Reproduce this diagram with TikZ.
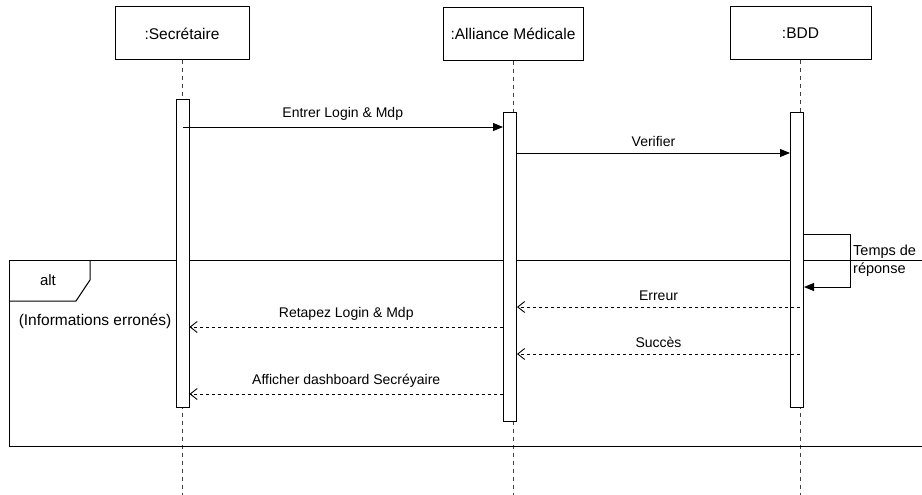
\documentclass[tikz,border=0pt]{standalone}
\usepackage{fontspec}
\setmainfont{Liberation Sans}
\usetikzlibrary{arrows.meta}
\begin{document}
\begin{tikzpicture}[x=1pt,y=-1pt,
  head/.style={draw,line width=1pt,fill=white,minimum width=134pt,minimum height=53pt,inner sep=0pt,font=\fontsize{15.5}{18}\selectfont},
  act/.style={draw,line width=1pt,fill=white,minimum width=13pt,inner sep=0pt},
  life/.style={line width=1pt,black!75,dash pattern=on 4pt off 4pt},
  sync/.style={line width=0.9pt,-{Triangle[length=10pt,width=8pt]}},
  ret/.style={line width=0.9pt,dash pattern=on 3pt off 3pt,-{Straight Barb[length=7pt,width=11pt]}},
  lbl/.style={font=\fontsize{14}{17}\selectfont,inner sep=0pt},
  frame/.style={line width=1pt}]
\useasboundingbox (0,0) rectangle (922,495);
% lifeline heads
\node[head] (h1) at (182,33.5) {:Secrétaire};
\node[head,minimum width=140pt] (h2) at (513,34) {:Alliance Médicale};
\node[head,minimum width=141pt] (h3) at (800.5,33.5) {:BDD};
\coordinate (e1) at (182,495);
\coordinate (e2) at (513,495);
\coordinate (e3) at (800,495);
\draw[life] (h1.south) -- (e1);
\draw[life] (h2.south) -- (e2);
\draw[life] (h3.south -| e3) -- (e3);
% alt frame
\coordinate (fl) at (9,260);
\coordinate (fr) at (922,260);
\coordinate (bl) at (9,446);
\coordinate (br) at (922,446);
\draw[frame] (fr) -- (fl) -- (bl) -- (br);
\coordinate (t1) at (90,260);
\coordinate (t2) at (90,280);
\coordinate (t3) at (76,301);
\coordinate (t4) at (9,301);
\draw[frame] (t1) -- (t2) -- (t3) -- (t4);
\node[lbl,font=\fontsize{15}{18}\selectfont] (alt) at (48,280) {alt};
\node[lbl,font=\fontsize{15.5}{18}\selectfont] (cond) at (95,321) {(Informations erronés)};
% activations
\node[act,minimum height=307pt] (a1) at (182.5,253.5) {};
\node[act,minimum height=308pt] (a2) at (510,267) {};
\node[act,minimum height=294pt] (a3) at (797,260) {};
% message rows
\coordinate (m1) at (0,127);
\coordinate (m2) at (0,153);
\coordinate (s1) at (850,234);
\coordinate (s2) at (850,287);
\coordinate (m3) at (0,307);
\coordinate (m4) at (0,327);
\coordinate (m5) at (0,354);
\coordinate (m6) at (0,394);
\draw[sync] (a1.center |- m1) -- node[lbl,above=6pt] (l1) {Entrer Login \& Mdp} (a2.west |- m1);
\draw[sync] (a2.east |- m2) -- node[lbl,above=6pt] (l2) {Verifier} (a3.west |- m2);
\draw[sync] (a3.east |- s1) -- (s1) -- (s2) -- (a3.east |- s2);
\node[lbl,anchor=west,align=left,font=\fontsize{14.5}{18}\selectfont] (l3) at (853,261) {Temps de\\réponse};
\draw[ret] (e3 |- m3) -- node[lbl,above=6pt] (l4) {Erreur} (a2.east |- m3);
\draw[ret] (a2.west |- m4) -- node[lbl,above=6pt] (l5) {Retapez Login \& Mdp} (a1.east |- m4);
\draw[ret] (e3 |- m5) -- node[lbl,above=6pt] (l6) {Succès} (a2.east |- m5);
\draw[ret] (a2.west |- m6) -- node[lbl,above=6pt] (l7) {Afficher dashboard Secréyaire} (a1.east |- m6);
\end{tikzpicture}
\end{document}
